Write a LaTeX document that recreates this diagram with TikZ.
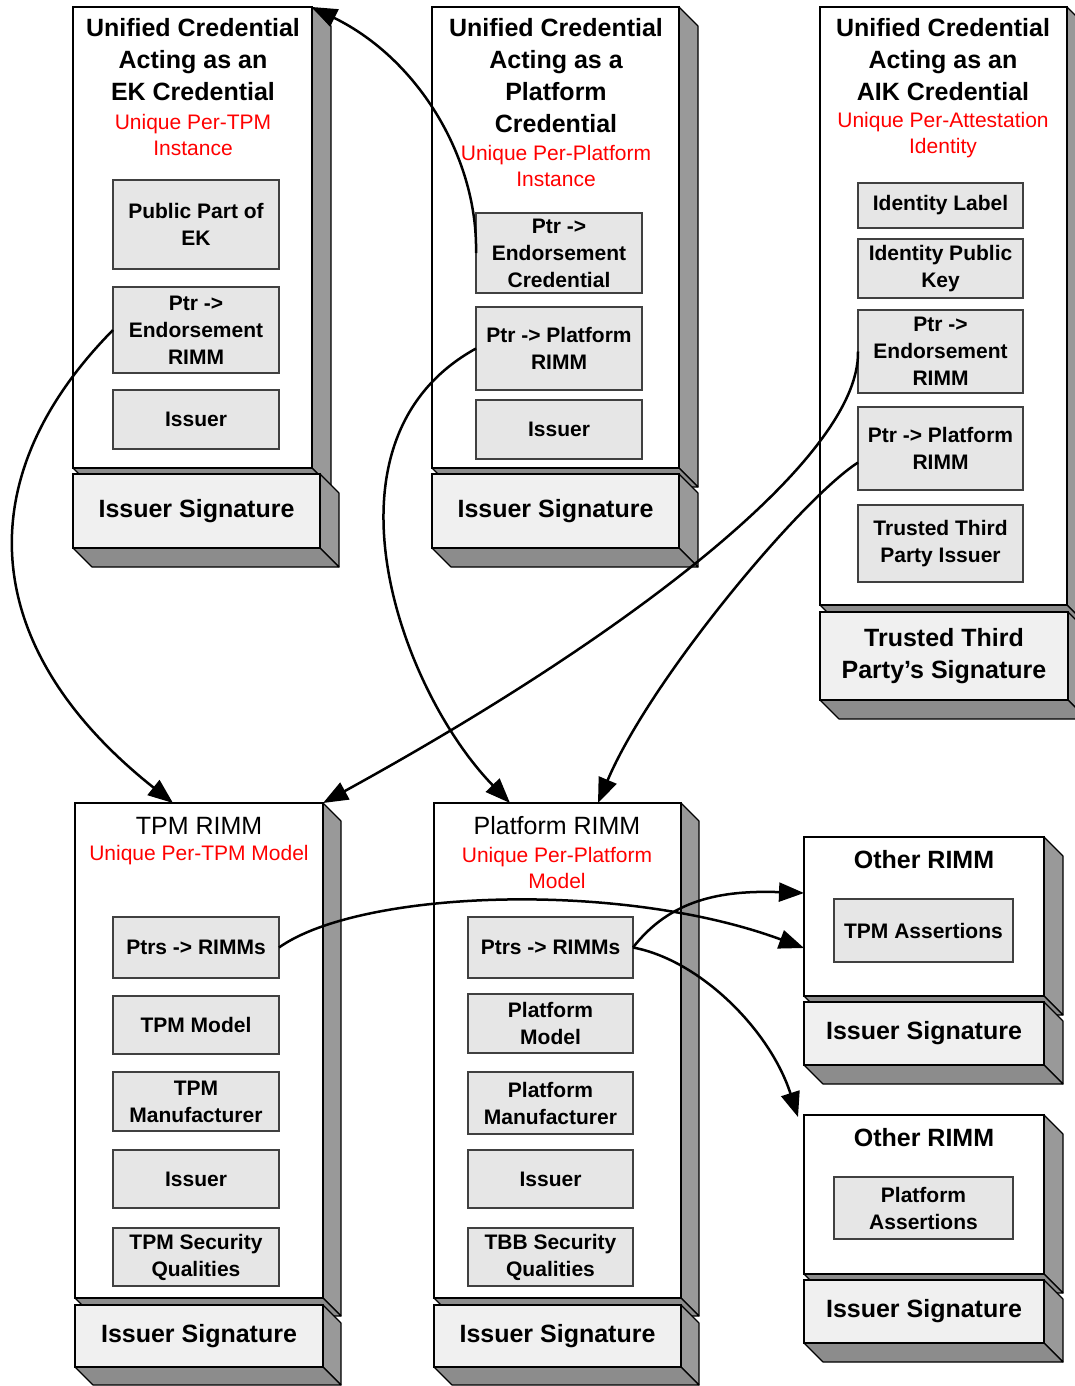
\documentclass[tikz,border=0pt]{standalone}
\usepackage{fontspec}
\setmainfont{Liberation Sans}
\usetikzlibrary{arrows.meta,calc}
\definecolor{sidegray}{HTML}{999999}
\definecolor{botgray}{HTML}{8C8C8C}
\definecolor{innerfill}{HTML}{E6E6E6}
\definecolor{sigfill}{HTML}{F0F0F0}
\definecolor{uniqred}{HTML}{FF0000}
\tikzset{
  facedraw/.style={draw=black, line width=1.1pt, line join=round},
  front/.style={draw=black, line width=1.3pt, inner sep=0pt, outer sep=0pt, align=center,
    font=\fontsize{25}{32}\selectfont\bfseries},
  ibox/.style={draw=black!75, fill=innerfill, line width=1.3pt, inner sep=0pt, outer sep=0pt,
    align=center, font=\fontsize{21}{27}\selectfont\bfseries},
  titletext/.style={align=center, font=\fontsize{25}{32}\selectfont\bfseries},
  rimmtitle/.style={align=center, font=\fontsize{25}{32}\selectfont},
  uniq/.style={align=center, text=uniqred, font=\fontsize{21}{26}\selectfont},
  link/.style={line width=2.5pt, -{Triangle[length=25pt,width=19pt]}},
}
% #1 name, #2 x1, #3 y1, #4 x2, #5 y2, #6 fill, #7 depth, #8 text
\newcommand{\threedbox}[8]{%
  \filldraw[fill=sidegray, facedraw] (#4,#3) -- (#4+#7,#3+#7) -- (#4+#7,#5+#7) -- (#4,#5) -- cycle;
  \filldraw[fill=botgray, facedraw] (#2,#5) -- (#4,#5) -- (#4+#7,#5+#7) -- (#2+#7,#5+#7) -- cycle;
  \node[front, fill=#6, minimum width={(#4-#2)*1pt}, minimum height={(#5-#3)*1pt}]
    (#1) at ({(#2+#4)/2},{(#3+#5)/2}) {#8};
}
% #1 name, #2 x1, #3 y1, #4 x2, #5 y2, #6 text
\newcommand{\innerbox}[6]{%
  \node[ibox, minimum width={(#4-#2)*1pt}, minimum height={(#5-#3)*1pt}]
    (#1) at ({(#2+#4)/2},{(#3+#5)/2}) {#6};
}
\begin{document}
\begin{tikzpicture}[x=1pt, y=-1pt]
\useasboundingbox (0,0) rectangle (1075,1386);
\fill[white] (0,0) rectangle (1075,1386);

% ---------- Box A: EK credential ----------
\threedbox{abody}{73}{7}{312}{468}{white}{19}{}
\node[titletext] (atitle) at (193,60) {Unified Credential\\Acting as an\\EK Credential};
\node[uniq] (auniq) at (193,135) {Unique Per-TPM\\Instance};
\innerbox{a1}{113}{180}{279}{269}{Public Part of\\EK}
\innerbox{a2}{113}{287}{279}{373}{Ptr ->\\Endorsement\\RIMM}
\innerbox{a3}{113}{390}{279}{449}{Issuer}
\threedbox{asig}{73}{474}{320}{548}{sigfill}{19}{Issuer Signature}

% ---------- Box B: Platform credential ----------
\threedbox{bbody}{432}{7}{679}{468}{white}{19}{}
\node[titletext] (btitle) at (556,76) {Unified Credential\\Acting as a\\Platform\\Credential};
\node[uniq] (buniq) at (556,166) {Unique Per-Platform\\Instance};
\innerbox{b1}{476}{213}{642}{293}{Ptr ->\\Endorsement\\Credential}
\innerbox{b2}{476}{307}{642}{390}{Ptr -> Platform\\RIMM}
\innerbox{b3}{476}{400}{642}{459}{Issuer}
\threedbox{bsig}{432}{474}{679}{548}{sigfill}{19}{Issuer Signature}

% ---------- Box C: AIK credential ----------
\threedbox{cbody}{820}{7}{1067}{605}{white}{19}{}
\node[titletext] (ctitle) at (943,60) {Unified Credential\\Acting as an\\AIK Credential};
\node[uniq] (cuniq) at (943,135) {Unique Per-Attestation\\Identity};
\innerbox{c1}{858}{183}{1023}{228}{Identity Label}
\innerbox{c2}{858}{239}{1023}{298}{Identity Public\\Key}
\innerbox{c3}{858}{310}{1023}{393}{Ptr ->\\Endorsement\\RIMM}
\innerbox{c4}{858}{407}{1023}{490}{Ptr -> Platform\\RIMM}
\innerbox{c5}{858}{505}{1023}{582}{Trusted Third\\Party Issuer}
\threedbox{csig}{820}{612}{1068}{700}{sigfill}{19}{Trusted Third\\Party's Signature}

% ---------- Box D: TPM RIMM ----------
\threedbox{dbody}{75}{803}{323}{1298}{white}{18}{}
\node[rimmtitle] (dtitle) at (199,826) {TPM RIMM};
\node[uniq] (duniq) at (199,855) {Unique Per-TPM Model};
\innerbox{d1}{113}{917}{279}{978}{Ptrs -> RIMMs}
\innerbox{d2}{113}{996}{279}{1054}{TPM Model}
\innerbox{d3}{113}{1072}{279}{1131}{TPM\\Manufacturer}
\innerbox{d4}{113}{1150}{279}{1208}{Issuer}
\innerbox{d5}{113}{1228}{279}{1286}{TPM Security\\Qualities}
\threedbox{dsig}{75}{1305}{323}{1367}{sigfill}{18}{Issuer Signature}

% ---------- Box E: Platform RIMM ----------
\threedbox{ebody}{434}{803}{681}{1298}{white}{18}{}
\node[rimmtitle] (etitle) at (557,826) {Platform RIMM};
\node[uniq] (euniq) at (557,868) {Unique Per-Platform\\Model};
\innerbox{e1}{468}{917}{633}{978}{Ptrs -> RIMMs}
\innerbox{e2}{468}{994}{633}{1053}{Platform\\Model}
\innerbox{e3}{468}{1072}{633}{1134}{Platform\\Manufacturer}
\innerbox{e4}{468}{1150}{633}{1208}{Issuer}
\innerbox{e5}{468}{1228}{633}{1286}{TBB Security\\Qualities}
\threedbox{esig}{434}{1305}{681}{1367}{sigfill}{18}{Issuer Signature}

% ---------- Box F: Other RIMM (TPM) ----------
\threedbox{fbody}{804}{837}{1044}{996}{white}{19}{}
\node[titletext] (ftitle) at (924,860) {Other RIMM};
\innerbox{f1}{834}{899}{1013}{962}{TPM Assertions}
\threedbox{fsig}{804}{1002}{1044}{1065}{sigfill}{19}{Issuer Signature}

% ---------- Box G: Other RIMM (Platform) ----------
\threedbox{gbody}{804}{1115}{1044}{1274}{white}{19}{}
\node[titletext] (gtitle) at (924,1138) {Other RIMM};
\innerbox{g1}{834}{1177}{1013}{1239}{Platform\\Assertions}
\threedbox{gsig}{804}{1280}{1044}{1343}{sigfill}{19}{Issuer Signature}

% ---------- connector end points ----------
\coordinate (t1) at ($(dbody.north west)+(98,0)$);
\coordinate (t2) at (abody.north east);
\coordinate (t3) at ($(ebody.north west)+(76,0)$);
\coordinate (t4) at (dbody.north east);
\coordinate (t5) at ($(ebody.north west)+(164,0)$);
\coordinate (t6) at ($(fbody.north west)+(0,111)$);
\coordinate (t7) at ($(fbody.north west)+(0,56)$);
\coordinate (t8) at ($(gbody.north west)+(-6,2)$);
\coordinate (c4s) at ($(c4.west)+(0,14)$);

% ---------- connectors ----------
\draw[link] (a2.west) .. controls (-35,480) and (-20,650) .. (t1);
\draw[link] (b1.west) .. controls (478,160) and (420,60) .. (t2);
\draw[link] (b2.west) .. controls (310,440) and (400,690) .. (t3);
\draw[link] (c3.west) .. controls (860,460) and (620,640) .. (t4);
\draw[link] (c4s) .. controls (800,500) and (650,680) .. (t5);
\draw[link] (d1.east) .. controls (360,890) and (620,880) .. (t6);
\draw[link] (e1.east) .. controls (670,900) and (720,890) .. (t7);
\draw[link] (e1.east) .. controls (700,960) and (770,1030) .. (t8);
\end{tikzpicture}
\end{document}
